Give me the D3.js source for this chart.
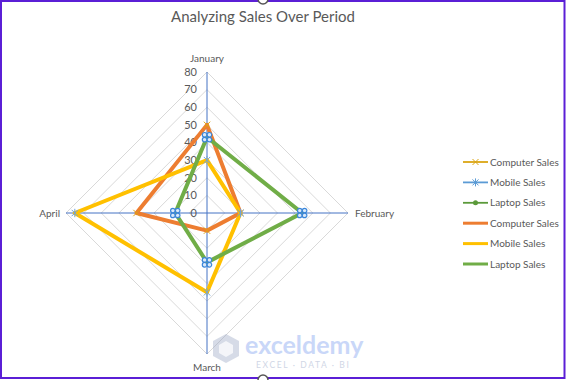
<!DOCTYPE html>
<html>
<head>
<meta charset="utf-8">
<script src="https://cdn.jsdelivr.net/npm/d3@7"></script>
<style>
    body { margin: 0; background: #fff; }
    svg { display: block; font-family: "Lato", "Liberation Sans", sans-serif; }
</style>
</head>
<body>
<svg id="chart" width="566" height="380"></svg>
<script>
const categories = ["January", "February", "March", "April"];
const computerSales = [50, 19, 10, 40];
const mobileSales = [30, 19, 45, 75];
const laptopSales = [43, 54, 28, 18];
const ticks = [0, 10, 20, 30, 40, 50, 60, 70, 80];
const legendNames = ["Computer Sales", "Mobile Sales", "Laptop Sales", "Computer Sales", "Mobile Sales", "Laptop Sales"];

const svg = d3.select("#chart");
const cx = 207, cy = 213;

const r = d3.scaleLinear().domain([0, 80]).range([0, 141]);
// January on top, then clockwise
const angle = d3.scalePoint().domain(categories).range([0, 2 * Math.PI * 3 / 4]);

function pt(cat, v) {
    const a = angle(cat);
    return [cx + r(v) * Math.sin(a), cy - r(v) * Math.cos(a)];
}

// border
svg.append("rect")
    .attr("x", 1).attr("y", 1).attr("width", 563.5).attr("height", 377)
    .attr("fill", "none").attr("stroke", "#5b1fd6").attr("stroke-width", 2);

// title
svg.append("text")
    .attr("x", 263).attr("y", 22)
    .attr("text-anchor", "middle")
    .attr("font-size", 15)
    .attr("fill", "#595959")
    .text("Analyzing Sales Over Period");

// grid diamonds
const g = svg.append("g");
g.selectAll("polygon.grid")
    .data(ticks.slice(1))
    .join("polygon")
    .attr("class", "grid")
    .attr("points", t => categories.map(c => pt(c, t).join(",")).join(" "))
    .attr("fill", "none")
    .attr("stroke", "#d9d9d9")
    .attr("stroke-width", 1);

// spokes
g.selectAll("line.spoke")
    .data(categories)
    .join("line")
    .attr("x1", cx).attr("y1", cy)
    .attr("x2", c => pt(c, 80)[0])
    .attr("y2", c => pt(c, 80)[1])
    .attr("stroke", "#4472c4")
    .attr("stroke-width", 1);

// tick labels
g.selectAll("text.tick")
    .data(ticks)
    .join("text")
    .attr("x", cx - 10)
    .attr("y", t => cy - r(t))
    .attr("dy", "0.35em")
    .attr("text-anchor", "end")
    .attr("font-size", 11)
    .attr("fill", "#595959")
    .text(t => t);

// category labels
const labelPos = {
    "January": {dx: 0, dy: -14, anchor: "middle"},
    "February": {dx: 7, dy: 0, anchor: "start"},
    "March": {dx: 0, dy: 13, anchor: "middle"},
    "April": {dx: -6, dy: 0, anchor: "end"}
};
g.selectAll("text.cat")
    .data(categories)
    .join("text")
    .attr("x", c => pt(c, 80)[0] + labelPos[c].dx)
    .attr("y", c => pt(c, 80)[1] + labelPos[c].dy)
    .attr("dy", "0.35em")
    .attr("text-anchor", c => labelPos[c].anchor)
    .attr("font-size", 10)
    .attr("fill", "#595959")
    .text(c => c);

// watermark
const wm = svg.append("g").attr("opacity", 0.4);
wm.append("path")
    .attr("d", "M226,334 L239,341 L239,356 L226,363 L213,356 L213,341 Z")
    .attr("fill", "#9aa6c4");
wm.append("path")
    .attr("d", "M226,341 L233,345 L233,353 L226,357 L219,353 L219,345 Z")
    .attr("fill", "#e4e8f2");
wm.append("text")
    .attr("x", 245).attr("y", 354)
    .attr("font-size", 25).attr("font-weight", "bold")
    .attr("fill", "#7a9cf0")
    .text("exceldemy");
wm.append("text")
    .attr("x", 256).attr("y", 368)
    .attr("font-size", 8.5).attr("letter-spacing", 1.6)
    .attr("fill", "#8a9ac0")
    .text("EXCEL · DATA · BI");

const series = [
    {name: legendNames[0], values: computerSales, color: "#dba514", width: 1.5, marker: "x"},
    {name: legendNames[1], values: mobileSales, color: "#5b9bd5", width: 1.5, marker: "star"},
    {name: legendNames[2], values: laptopSales, color: "#5b9a3a", width: 1.5, marker: "circle"},
    {name: legendNames[3], values: computerSales, color: "#ed7d31", width: 4, marker: null},
    {name: legendNames[4], values: mobileSales, color: "#ffc000", width: 4, marker: null},
    {name: legendNames[5], values: laptopSales, color: "#70ad47", width: 4, marker: null}
];

const line = d3.line().curve(d3.curveLinearClosed);

svg.selectAll("path.series")
    .data(series)
    .join("path")
    .attr("class", "series")
    .attr("d", s => line(categories.map((c, i) => pt(c, s.values[i]))))
    .attr("fill", "none")
    .attr("stroke", s => s.color)
    .attr("stroke-width", s => s.width)
    .attr("stroke-linejoin", "round");

function drawMarker(sel, type, color, size) {
    const k = size || 3.5;
    if (type === "x") {
        sel.append("path").attr("d", `M${-k},${-k}L${k},${k}M${-k},${k}L${k},${-k}`)
            .attr("stroke", color).attr("stroke-width", 1).attr("fill", "none");
    } else if (type === "star") {
        sel.append("path").attr("d", `M${-k},${-k}L${k},${k}M${-k},${k}L${k},${-k}M0,${-k - 1}L0,${k + 1}`)
            .attr("stroke", color).attr("stroke-width", 1).attr("fill", "none");
    } else if (type === "clover") {
        [[-2.4, -2.4], [2.4, -2.4], [-2.4, 2.4], [2.4, 2.4]].forEach(function (o) {
            sel.append("circle").attr("cx", o[0]).attr("cy", o[1]).attr("r", 2.3)
                .attr("fill", "#dbe9f8").attr("stroke", "#3b86d9").attr("stroke-width", 1.2);
        });
    } else if (type === "circle") {
        sel.append("circle").attr("r", 2.5).attr("fill", color);
    }
}

// markers of the thin series, as they show on top of the thick lines
const markerSeries = [
    {values: computerSales, type: "x", color: "#dba514"},
    {values: mobileSales, type: "star", color: "#6fa3dc"},
    {values: laptopSales, type: "clover", color: "#3b86d9"}
];
markerSeries.forEach(function (m) {
    categories.forEach(function (c, i) {
        const p = pt(c, m.values[i]);
        const mg = svg.append("g").attr("transform", "translate(" + p[0] + "," + p[1] + ")");
        drawMarker(mg, m.type, m.color, 3.2);
    });
});

// legend
const legend = svg.append("g").attr("transform", "translate(463,162)");
const rows = legend.selectAll("g.row")
    .data(series)
    .join("g")
    .attr("transform", (s, i) => "translate(0," + (i * 20.4) + ")");
rows.append("line")
    .attr("x1", 0).attr("x2", 25).attr("y1", 0).attr("y2", 0)
    .attr("stroke", s => s.color)
    .attr("stroke-width", s => s.width === 4 ? 3 : 1.8);
rows.each(function (s) {
    const mg = d3.select(this).append("g").attr("transform", "translate(12.5,0)");
    if (s.marker) drawMarker(mg, s.marker, s.color, 3);
});
rows.append("text")
    .attr("x", 27).attr("y", 0).attr("dy", "0.35em")
    .attr("font-size", 10)
    .attr("fill", "#595959")
    .text(s => s.name);

// selection handles
[[263, -1], [263, 380]].forEach(function (h) {
    svg.append("circle").attr("cx", h[0]).attr("cy", h[1]).attr("r", 5)
        .attr("fill", "#fff").attr("stroke", "#555").attr("stroke-width", 1.5);
});
</script>
</body>
</html>
